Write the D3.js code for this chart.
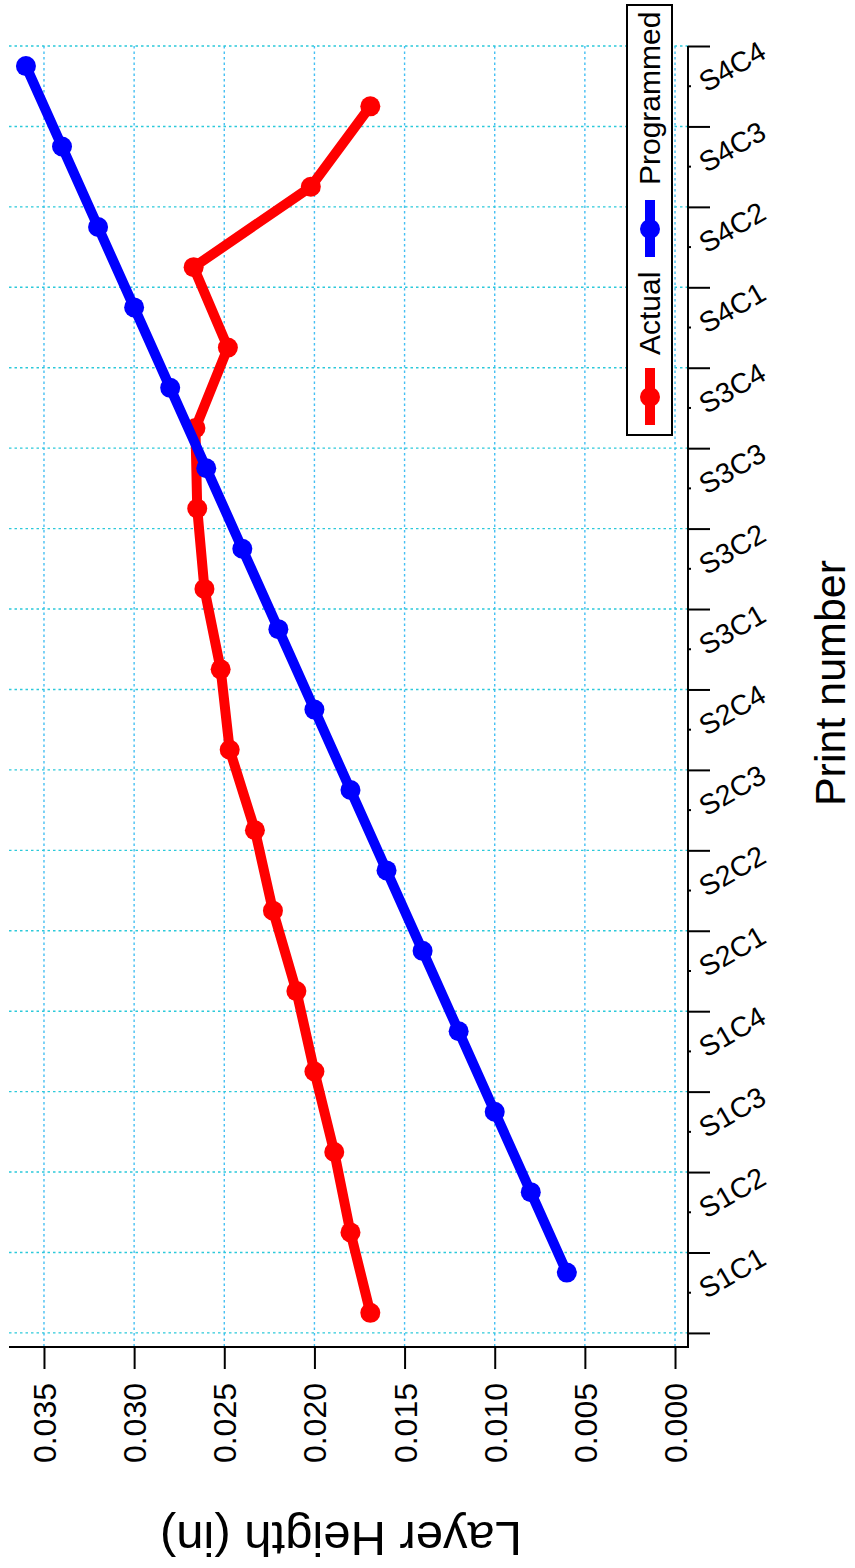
<!DOCTYPE html>
<html lang="en">
<head>
    <meta charset="UTF-8">
    <title>Layer height per print</title>
    <script src="https://cdn.jsdelivr.net/npm/d3@7"></script>
    <style>
        body { margin: 0; background: #fff; }
        svg { display: block; font-family: "Liberation Sans", Arial, Helvetica, sans-serif; }
    </style>
</head>
<body>
    <div id="chart"></div>

    <script>
        // print numbers, bottom (S1C1) to top (S4C4)
        const categories = ["S1C1", "S1C2", "S1C3", "S1C4", "S2C1", "S2C2", "S2C3", "S2C4",
                            "S3C1", "S3C2", "S3C3", "S3C4", "S4C1", "S4C2", "S4C3", "S4C4"];
        const programmed = [0.006, 0.008, 0.010, 0.012, 0.014, 0.016, 0.018, 0.020,
                            0.022, 0.024, 0.026, 0.028, 0.030, 0.032, 0.034, 0.036];
        const actual = [0.0169, 0.0180, 0.0189, 0.0200, 0.0210, 0.0223, 0.0233, 0.0247,
                        0.0252, 0.0261, 0.0265, 0.0266, 0.0248, 0.0267, 0.0202, 0.0169];
        const valueTicks = [0, 0.005, 0.010, 0.015, 0.020, 0.025, 0.030, 0.035];
        const legendLabels = ["Actual", "Programmed"];

        const width = 855;
        const height = 1568;

        // value runs right -> left, print position runs bottom -> top
        const x = d3.scaleLinear()
            .domain([-0.00072, 0.03694])
            .range([688, 9]);

        const y = d3.scaleLinear()
            .domain([-0.175, 16])
            .range([1347, 46]);

        const slots = d3.range(categories.length + 1);

        const svg = d3.select("#chart").append("svg")
            .attr("width", width)
            .attr("height", height);

        // grid
        svg.append("g")
            .attr("stroke", "#44bff2")
            .attr("stroke-width", 1.4)
            .attr("stroke-dasharray", "2.5,3")
            .selectAll("line")
            .data(valueTicks)
            .join("line")
            .attr("x1", d => x(d)).attr("x2", d => x(d))
            .attr("y1", y(16)).attr("y2", y.range()[0]);

        svg.append("g")
            .attr("stroke", "#2cc9da")
            .attr("stroke-width", 1.4)
            .attr("stroke-dasharray", "2.5,3")
            .selectAll("line")
            .data(slots)
            .join("line")
            .attr("x1", x.range()[1]).attr("x2", x.range()[0])
            .attr("y1", d => y(d)).attr("y2", d => y(d));

        // bottom (value) axis
        svg.append("g")
            .attr("transform", `translate(0,${y.range()[0]})`)
            .call(d3.axisBottom(x).tickValues(valueTicks).tickSize(22).tickFormat(d3.format(".3f")))
            .call(g => g.select(".domain").remove())
            .call(g => g.selectAll(".tick line").attr("stroke", "#000").attr("stroke-width", 2))
            .call(g => g.selectAll(".tick text")
                .attr("transform", "rotate(-90)")
                .attr("x", -36)
                .attr("y", 0)
                .attr("dy", "0.36em")
                .attr("text-anchor", "end")
                .attr("fill", "#000")
                .attr("font-size", 32)
                .attr("font-family", null));

        // right (print number) axis
        svg.append("g")
            .attr("transform", `translate(${x.range()[0]},0)`)
            .call(d3.axisRight(y).tickValues(slots).tickSize(22).tickFormat(""))
            .call(g => g.select(".domain").remove())
            .call(g => g.selectAll(".tick line").attr("stroke", "#000").attr("stroke-width", 2));

        svg.append("g")
            .attr("stroke", "#000")
            .attr("stroke-width", 2)
            .selectAll("line")
            .data(d3.range(categories.length))
            .join("line")
            .attr("x1", x.range()[0]).attr("x2", x.range()[0] + 3)
            .attr("y1", d => y(d + 0.5)).attr("y2", d => y(d + 0.5));

        // L-shaped frame
        svg.append("path")
            .attr("fill", "none")
            .attr("stroke", "#000")
            .attr("stroke-width", 2)
            .attr("d", `M${x.range()[1]},${y.range()[0]}H${x.range()[0]}V${y(16)}`);

        svg.append("g")
            .attr("font-size", 28.5)
            .attr("text-anchor", "middle")
            .selectAll("text")
            .data(categories)
            .join("text")
            .attr("transform", (d, i) => `translate(732,${y(i + 0.75)}) rotate(-30)`)
            .attr("dy", "0.36em")
            .text(d => d);

        // axis titles
        svg.append("text")
            .attr("transform", `translate(341,1522) rotate(180)`)
            .attr("text-anchor", "middle")
            .attr("font-size", 49)
            .text("Layer Heigth (in)");

        svg.append("text")
            .attr("transform", `translate(845,683) rotate(-90)`)
            .attr("text-anchor", "middle")
            .attr("font-size", 43)
            .text("Print number");

        // series
        const series = [
            {name: "Actual", values: actual, offset: 0.25, color: "#ff0000"},
            {name: "Programmed", values: programmed, offset: 0.75, color: "#0000ff"}
        ];

        const line = d3.line()
            .x(d => x(d.v))
            .y(d => y(d.p));

        series.forEach(s => {
            const pts = s.values.map((v, i) => ({v: v, p: i + s.offset}));
            const g = svg.append("g");
            g.append("path")
                .datum(pts)
                .attr("fill", "none")
                .attr("stroke", s.color)
                .attr("stroke-width", 10)
                .attr("stroke-linejoin", "round")
                .attr("d", line);
            g.selectAll("circle")
                .data(pts)
                .join("circle")
                .attr("cx", d => x(d.v))
                .attr("cy", d => y(d.p))
                .attr("r", 10)
                .attr("fill", s.color);
        });

        // legend
        const legend = svg.append("g");
        legend.append("rect")
            .attr("x", 627).attr("y", 5)
            .attr("width", 45).attr("height", 430)
            .attr("fill", "#fff")
            .attr("stroke", "#000")
            .attr("stroke-width", 2);

        const legendItems = [
            {label: legendLabels[0], color: "#ff0000", y: 397, textY: 355},
            {label: legendLabels[1], color: "#0000ff", y: 229, textY: 185}
        ];

        legendItems.forEach(item => {
            legend.append("line")
                .attr("x1", 650).attr("x2", 650)
                .attr("y1", item.y - 29).attr("y2", item.y + 28)
                .attr("stroke", item.color)
                .attr("stroke-width", 10);
            legend.append("circle")
                .attr("cx", 650).attr("cy", item.y)
                .attr("r", 10)
                .attr("fill", item.color);
            legend.append("text")
                .attr("transform", `translate(660,${item.textY}) rotate(-90)`)
                .attr("font-size", 30)
                .text(item.label);
        });
    </script>
</body>
</html>
